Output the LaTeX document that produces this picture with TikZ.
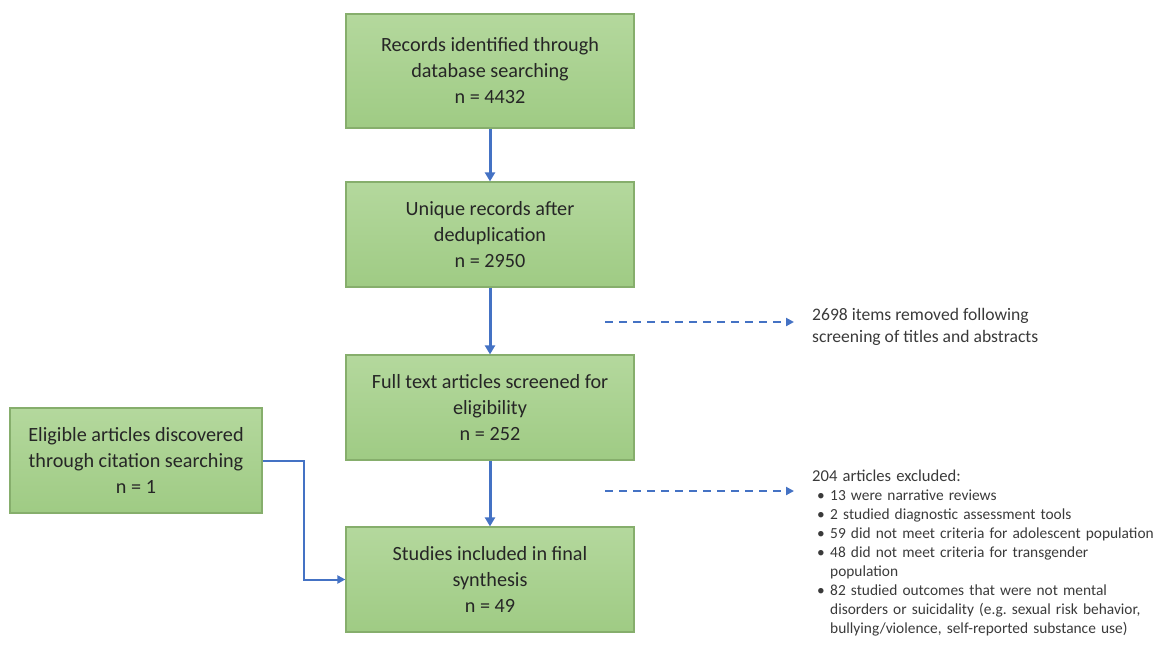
\documentclass[tikz,border=0pt]{standalone}
\usepackage{fontspec}
\setmainfont{Carlito}
\usetikzlibrary{arrows.meta}

\definecolor{boxtop}{HTML}{B4D89D}
\definecolor{boxbot}{HTML}{9FCB84}
\definecolor{boxline}{HTML}{86AE6C}
\definecolor{boxtext}{HTML}{262626}
\definecolor{sidetext}{HTML}{3A3A3A}
\definecolor{flowblue}{HTML}{4472C4}

\newcommand\bulletitem{\par\hangindent=18pt\hangafter=1\noindent\hbox to 18pt{\hskip5pt\textbullet\hfil}}

\tikzset{
	stage/.style={draw=boxline, line width=1.2pt, top color=boxtop, bottom color=boxbot,
		text=boxtext, align=center, minimum width=288, minimum height=105, inner sep=0pt,
		font=\fontsize{20.2}{26}\selectfont},
	flow/.style={draw=flowblue, line width=3pt, -{Triangle[length=9pt,width=10pt]}},
	elbow/.style={draw=flowblue, line width=2pt, -{Triangle[length=8pt,width=8pt]}},
	cut/.style={draw=flowblue, line width=2pt, dash pattern=on 8pt off 6pt,
		-{Triangle[length=8pt,width=8pt]}},
	note/.style={text=sidetext, anchor=north west, inner sep=0pt, align=left}
}

\begin{document}
\begin{tikzpicture}[x=1pt,y=-1pt]

	\useasboundingbox (0,0) rectangle (1158,645);

	% main column
	\node[stage, minimum height=114] (rec) at (490,71)
		{Records identified through\\database searching\\n = 4432};
	\node[stage] (uniq) at (490,234.5)
		{Unique records after\\deduplication\\n = 2950};
	\node[stage] (full) at (490,407.5)
		{Full text articles screened for\\eligibility\\n = 252};
	\node[stage] (incl) at (490,579.5)
		{Studies included in final\\synthesis\\n = 49};

	% side source
	\node[stage, minimum width=252] (cite) at (136,460.5)
		{Eligible articles discovered\\through citation searching\\n = 1};

	\draw[flow] (rec) -- (uniq);
	\draw[flow] (uniq) -- (full);
	\draw[flow] (full) -- (incl);

	\coordinate (bend) at (304,460.5);
	\draw[elbow] (cite.east) -- (bend) |- (incl.west);

	% exclusions
	\coordinate (cut1) at (605,322);
	\coordinate (tip1) at (794,322);
	\coordinate (cut2) at (605,491);
	\coordinate (tip2) at (794,491);
	\draw[cut] (cut1) -- (tip1);
	\draw[cut] (cut2) -- (tip2);

	\node[note, font=\fontsize{17.6}{22}\selectfont] (removed) at (812,308)
		{2698 items removed following\\screening of titles and abstracts};

	\node[note, text width=346, font=\fontsize{15.4}{19}\selectfont] (excluded) at (812,470)
		{\raggedright
		{\fontsize{16.6}{19}\selectfont 204 articles excluded:}
		\bulletitem 13 were narrative reviews
		\bulletitem 2 studied diagnostic assessment tools
		\bulletitem 59 did not meet criteria for adolescent population
		\bulletitem 48 did not meet criteria for transgender\newline population
		\bulletitem 82 studied outcomes that were not mental\newline disorders or suicidality (e.g.\ sexual risk behavior,\newline bullying/violence, self-reported substance use)\par};

\end{tikzpicture}
\end{document}
